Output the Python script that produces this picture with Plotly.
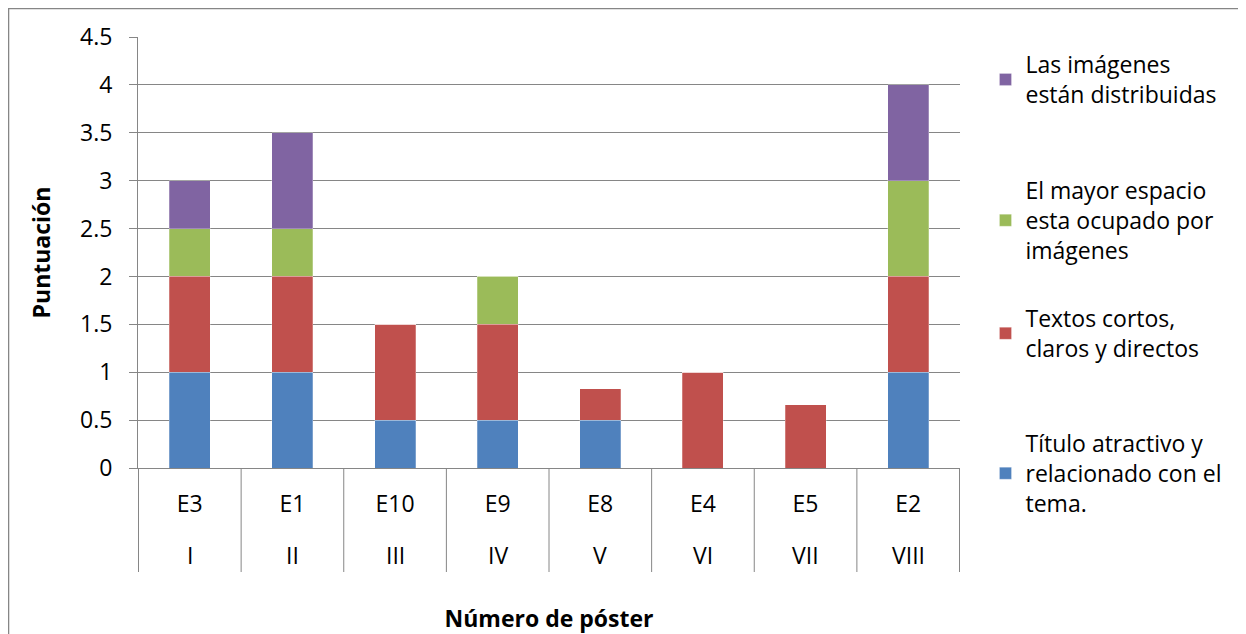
import plotly.graph_objects as go

romans = ["I", "II", "III", "IV", "V", "VI", "VII", "VIII"]
posters = ["E3", "E1", "E10", "E9", "E8", "E4", "E5", "E2"]

titulo = [1, 1, 0.5, 0.5, 0.5, 0, 0, 1]
textos = [1, 1, 1, 1, 0.33, 1, 0.66, 1]
espacio = [0.5, 0.5, 0, 0.5, 0, 0, 0, 1]
imagenes = [0.5, 1, 0, 0, 0, 0, 0, 1]

series = [
    ("Título atractivo y<br>relacionado con el<br>tema.", titulo, "#4F81BD", "legend4", 0.107),
    ("Textos cortos,<br>claros y directos", textos, "#C0504D", "legend3", 0.397),
    ("El mayor espacio<br>esta ocupado por<br>imágenes", espacio, "#9BBB59", "legend2", 0.694),
    ("Las imágenes<br>están distribuidas", imagenes, "#8064A2", "legend", 0.986),
]

FONT = "'Open Sans', sans-serif"
FS = 23
GRID = "#868686"

fig = go.Figure()
for name, vals, color, leg, _ in series:
    fig.add_trace(go.Bar(
        x=posters, y=vals, name=name,
        marker=dict(color=color, line=dict(color="rgba(255,255,255,0.5)", width=0.5)),
        legend=leg, showlegend=True,
    ))

legend_common = dict(x=1.031, xanchor="left", yanchor="top",
                      font=dict(family=FONT, size=FS, color="#000"),
                      bgcolor="rgba(0,0,0,0)", itemwidth=30)
layout_legends = {}
for name, vals, color, leg, ypos in series:
    layout_legends[leg] = dict(legend_common, y=ypos)

fig.update_layout(
    barmode="stack",
    bargap=0.6,
    showlegend=True,
    width=1238, height=626,
    margin=dict(l=130, r=286, t=29, b=166),
    paper_bgcolor="white", plot_bgcolor="white",
    font=dict(family=FONT, size=FS, color="#000"),
    **layout_legends,
)
fig.update_xaxes(
    type="category", automargin=False,
    showline=True, linecolor=GRID, linewidth=1,
    ticks="outside", tickcolor="rgba(0,0,0,0)", ticklen=15,
    tickfont=dict(size=FS),
    title=dict(text="<b>Número de póster</b>", font=dict(size=FS), standoff=94),
)
fig.update_yaxes(
    range=[0, 4.5], dtick=0.5, automargin=False,
    showgrid=True, gridcolor=GRID, gridwidth=1,
    showline=True, linecolor=GRID, linewidth=1,
    ticks="outside", tickcolor=GRID, ticklen=8, ticklabelstandoff=12,
    zeroline=False,
    tickfont=dict(size=FS),
    title=dict(text="<b>Puntuación</b>", font=dict(size=FS), standoff=23),
)

# second row of the category axis (roman numerals) and the group dividers
for i, r in enumerate(romans):
    fig.add_annotation(x=posters[i], xref="x", y=-0.202, yref="paper",
                       text=r, showarrow=False, yanchor="middle",
                       font=dict(family=FONT, size=FS, color="#000"))
for i in range(len(posters) + 1):
    fig.add_shape(type="line", xref="x", yref="paper",
                  x0=i - 0.5, x1=i - 0.5, y0=0, y1=-0.2413,
                  line=dict(color=GRID, width=1))

# chart-area frame
fig.add_shape(type="rect", xref="paper", yref="paper",
              x0=-0.1575, x1=1.3455, y0=-0.45, y1=1.0662,
              line=dict(color=GRID, width=1.5), layer="above")

fig.write_html("out.html")
